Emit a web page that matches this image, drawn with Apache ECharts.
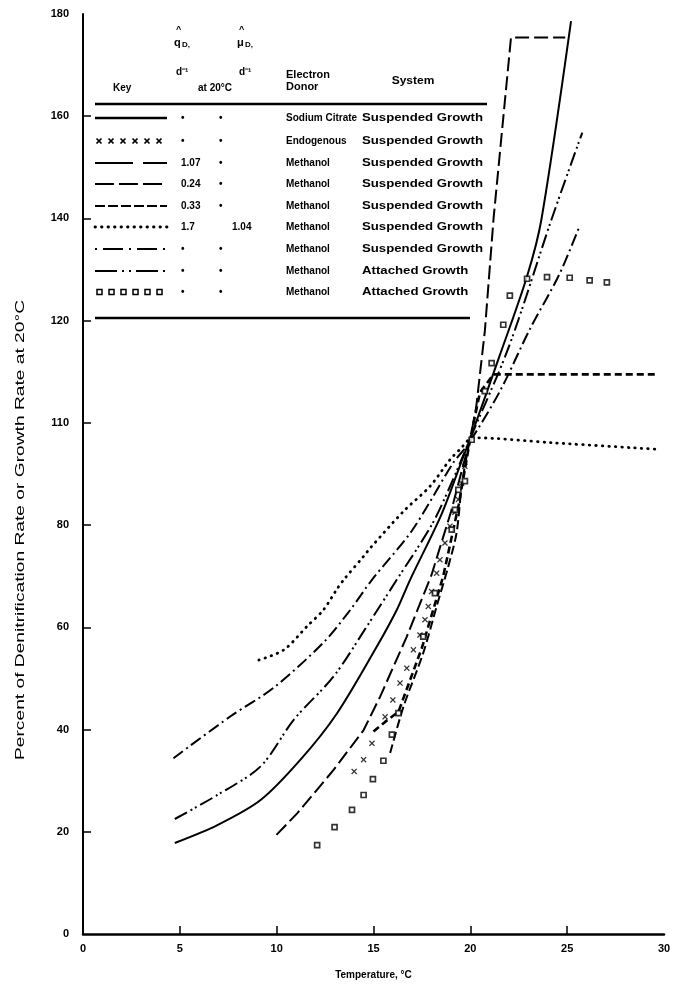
<!DOCTYPE html>
<html>
<head>
<meta charset="utf-8">
<script src="https://cdn.jsdelivr.net/npm/echarts@6/dist/echarts.min.js"></script>
<style>html,body{margin:0;padding:0;background:#fff;}#c{width:677px;height:990px;}</style>
</head>
<body>
<div id="c"></div>
<script>
// ---------- data ----------
const xTickValues = [5, 10, 15, 20, 25];
const yTickLabels = ['0', '20', '40', '60', '80', '110', '120', '140', '160', '180'];

const sodiumCitrate = [[4.74,17.8],[6.94,21.3],[9.17,26.2],[11.23,34.1],[13.12,43.2],[15.18,56.3],[16.2,63.4],[16.89,69.3],[18.5,82],[19.5,92],[20.0,97],[21.5,113],[22.93,128.7],[23.67,139.8],[25.2,178.6]];
const endogenous = [[14.0,31.8],[14.49,34.1],[14.92,37.3],[15.6,42.5],[16.0,45.8],[16.37,49.1],[16.72,52.0],[17.06,55.6],[17.4,58.5],[17.66,61.5],[17.83,64.1],[18.0,67.0],[18.26,70.6],[18.43,73.2],[18.69,76.5],[18.95,79.8],[19.2,82.5],[19.38,85.0],[19.55,88.2],[19.72,91.5]];
const methanol107 = [[9.99,19.4],[11.06,23.6],[12.94,32.1],[14.49,39.9],[15.35,46.5],[16.72,58.2],[18.0,70.3],[19.0,82.6],[20.0,97],[20.3,103],[20.75,118],[21.2,140],[22.1,175.4],[24.9,175.4]];
const methanol024 = [[15.86,35.4],[16.55,44.5],[17.57,55.0],[18.26,64.1],[18.86,71.9],[19.29,78.5],[19.55,87.6],[19.81,93.5],[20.0,97]];
const methanol033 = [[15.0,39.6],[15.6,41.5],[16.29,43.5],[17.5,56],[18.6,70],[19.4,84],[20.0,97],[20.5,106],[21.2,109.5],[29.6,109.5]];
const methanol17 = [[9.08,53.6],[10.37,55.6],[11.57,60.2],[12.41,63.4],[13.1,67.4],[13.46,69.3],[14.49,73.9],[14.83,75.5],[16.55,82.7],[17.92,87.6],[18.95,92.8],[19.46,94.8],[20.15,97.1],[24.27,96.1],[29.8,94.8]];
const methanolSusp = [[4.67,34.4],[7.62,42.6],[9.85,48.2],[12.41,57.0],[13.8,63.4],[14.92,69.3],[17.0,79],[19.12,92.2],[19.9,95.9],[21.5,106],[23.07,118.3],[24.6,129.1],[25.64,138.5]];
const methanolAtt = [[4.74,22.5],[6.94,27.2],[9.17,32.8],[10.88,41.9],[12.94,50.4],[14.66,60.2],[16.2,69.3],[18.0,80],[19.0,88],[20.0,97],[22.0,115],[24.19,139.8],[25.78,156.8]];
const attachedSquares = [[12.09,17.4],[12.99,20.9],[13.89,24.3],[14.49,27.2],[14.97,30.3],[15.51,33.9],[15.95,39.0],[16.29,43.2],[17.57,58.2],[18.17,66.7],[19.04,79.1],[19.21,83.0],[19.38,86.9],[19.72,88.6],[20.07,96.7],[20.75,106.2],[21.1,111.7],[21.7,119.2],[22.04,124.9],[22.93,128.2],[23.96,128.5],[25.13,128.4],[26.16,127.9],[27.05,127.5]];

// key table
const keyQ = ['\u2022','\u2022','1.07','0.24','0.33','1.7','\u2022','\u2022','\u2022'];
const keyMu = ['\u2022','\u2022','\u2022','\u2022','\u2022','1.04','\u2022','\u2022','\u2022'];
const keyDonor = ['Sodium Citrate','Endogenous','Methanol','Methanol','Methanol','Methanol','Methanol','Methanol','Methanol'];
const keySystem = ['Suspended Growth','Suspended Growth','Suspended Growth','Suspended Growth','Suspended Growth','Suspended Growth','Suspended Growth','Attached Growth','Attached Growth'];

// ---------- styles ----------
const K = '#000';
const FONT = '"Liberation Sans", Arial, sans-serif';
const crossPath = 'path://M0,1.5L1.5,0L5,3.5L8.5,0L10,1.5L6.5,5L10,8.5L8.5,10L5,6.5L1.5,10L0,8.5L3.5,5Z';
const styles = [
  {dash: 'solid', w: 2},
  {marker: 'cross'},
  {dash: [14, 5], w: 2},
  {dash: [9, 4], w: 2},
  {dash: [7, 4], w: 2.6},
  {dash: [0.5, 6], w: 2.8, cap: 'round'},
  {dash: [12, 4, 2, 4], w: 2},
  {dash: [14, 4, 2, 3, 2, 4], w: 2},
  {marker: 'square'}
];
const keyDash = [null, null, [38, 10], [19, 5], [10, 3], [0.5, 6], [2, 6, 20, 6], [22, 5, 2, 5, 2, 5], null];

function lineSeries(name, data, st, smooth) {
  return {
    name, type: 'line', data, showSymbol: false, smooth: smooth === undefined ? 0.3 : smooth,
    lineStyle: {color: K, width: st.w, type: st.dash, cap: st.cap || 'butt'},
    z: 3, silent: true
  };
}

const series = [
  lineSeries('Sodium Citrate', sodiumCitrate, styles[0]),
  {name: 'Endogenous', type: 'scatter', data: endogenous, symbol: crossPath, symbolSize: 6,
   itemStyle: {color: K}, z: 4, silent: true},
  lineSeries('Methanol 1.07', methanol107, styles[2], false),
  lineSeries('Methanol 0.24', methanol024, styles[3]),
  lineSeries('Methanol 0.33', methanol033, styles[4], false),
  lineSeries('Methanol 1.7', methanol17, styles[5]),
  lineSeries('Methanol suspended', methanolSusp, styles[6]),
  lineSeries('Methanol attached', methanolAtt, styles[7]),
  {name: 'Methanol attached squares', type: 'scatter', data: attachedSquares, symbol: 'rect', symbolSize: 5,
   itemStyle: {color: '#fff', borderColor: K, borderWidth: 1.7}, z: 4, silent: true}
];

// ---------- key table graphics ----------
const rowY = [118, 141, 163, 184, 206, 227, 249, 271, 292];
const tFont = 'bold 10px ' + FONT;
const graphics = [];
function txt(text, x, y, opt) {
  opt = opt || {};
  graphics.push({type: 'text', silent: true, x, y, scaleX: opt.sx || 1, scaleY: opt.sy || 1,
    rotation: opt.rot || 0,
    style: {text, x: 0, y: 0, fill: K, font: opt.font || tFont,
      align: opt.align || 'left', verticalAlign: 'middle'}});
}
function seg(x1, y1, x2, y2, w, dash) {
  graphics.push({type: 'line', silent: true, shape: {x1, y1, x2, y2},
    style: {stroke: K, lineWidth: w, lineDash: dash || null, lineCap: (dash && dash[0] < 1) ? 'round' : 'butt'}});
}
function hline(x1, x2, y, w, dash) { seg(x1, y, x2, y, w, dash); }
// header
txt('Key', 113, 88);
txt('^', 176, 30, {font: 'bold 9px ' + FONT});
txt('q', 174, 43, {font: 'bold 11px ' + FONT});
txt('D,', 182, 45, {font: 'bold 8px ' + FONT});
txt('d\u207B\u00B9', 176, 72);
txt('^', 239, 30, {font: 'bold 9px ' + FONT});
txt('\u03BC', 237, 43, {font: 'bold 11px ' + FONT});
txt('D,', 245, 45, {font: 'bold 8px ' + FONT});
txt('d\u207B\u00B9', 239, 72);
txt('at 20\u00B0C', 198, 88);
txt('Electron', 286, 75, {sx: 1.1});
txt('Donor', 286, 87, {sx: 1.1});
txt('System', 413, 81, {align: 'center', sx: 1.2});
hline(95, 487, 104, 2.5);
hline(95, 470, 318, 2.5);
for (let i = 0; i < rowY.length; i++) {
  const y = rowY[i];
  if (i === 0) hline(95, 167, y, 2.5);
  else if (i === 1) {
    for (let k = 0; k < 6; k++) {
      const cx = 99 + k * 12;
      seg(cx - 2.5, y - 2.5, cx + 2.5, y + 2.5, 1.7);
      seg(cx - 2.5, y + 2.5, cx + 2.5, y - 2.5, 1.7);
    }
  } else if (i === 8) {
    for (let k = 0; k < 6; k++) graphics.push({type: 'rect', silent: true,
      shape: {x: 97 + k * 12, y: y - 2.5, width: 5, height: 5},
      style: {fill: '#fff', stroke: K, lineWidth: 1.5}});
  } else {
    hline(95, 167, y, i === 5 ? 2.8 : 2, keyDash[i]);
  }
  txt(keyQ[i], 181, y);
  txt(keyMu[i], keyMu[i] === '1.04' ? 232 : 219, y);
  txt(keyDonor[i], 286, y);
  txt(keySystem[i], 362, y, {font: 'bold 11px ' + FONT, sx: 1.2});
}
// y axis title (stretched along its length like the printed one)
const yTitle = 'Percent of Denitrification Rate or Growth Rate at 20\u00B0C';
const yTitleFont = '13px ' + FONT;
const mctx = document.createElement('canvas').getContext('2d');
mctx.font = yTitleFont;
const yTitleScale = 460 / mctx.measureText(yTitle).width;
txt(yTitle, 20, 530, {font: yTitleFont, align: 'center', rot: Math.PI / 2, sx: yTitleScale});

const chart = echarts.init(document.getElementById('c'), null, {renderer: 'canvas'});
chart.setOption({
  animation: false,
  backgroundColor: '#fff',
  grid: {left: 83, right: 13, top: 14, bottom: 56},
  xAxis: {
    type: 'value', min: 0, max: 30, interval: 5,
    axisLine: {lineStyle: {color: K, width: 2.5}},
    axisTick: {inside: true, length: 8, lineStyle: {color: K, width: 1.5}, customValues: xTickValues},
    axisLabel: {color: K, fontWeight: 'bold', fontSize: 11, fontFamily: FONT, margin: 9},
    splitLine: {show: false},
    name: 'Temperature, \u00B0C', nameLocation: 'middle', nameGap: 36,
    nameTextStyle: {color: K, fontWeight: 'bold', fontSize: 10, fontFamily: FONT}
  },
  yAxis: {
    type: 'value', min: 0, max: 180, interval: 20,
    axisLine: {show: true, lineStyle: {color: K, width: 2}},
    axisTick: {show: true, inside: true, length: 8, lineStyle: {color: K, width: 1.5},
      customValues: [20, 40, 60, 80, 100, 120, 140, 160]},
    axisLabel: {color: K, fontWeight: 'bold', fontSize: 11, fontFamily: FONT, margin: 14,
      formatter: v => yTickLabels[Math.round(v / 20)]},
    splitLine: {show: false}
  },
  graphic: graphics,
  series
});
</script>
</body>
</html>
